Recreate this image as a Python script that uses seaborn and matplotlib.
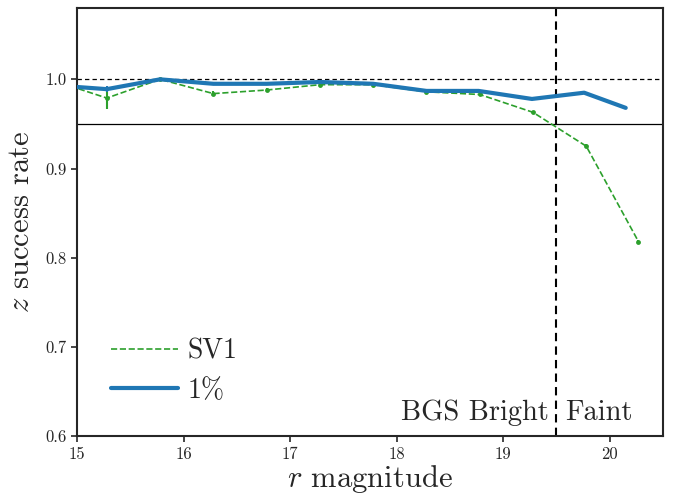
import numpy as np
import pandas as pd
import matplotlib
matplotlib.use("Agg")
import matplotlib.pyplot as plt
from matplotlib.lines import Line2D
import seaborn as sns

# ---- data ----
sv1_mag = [14.78, 15.28, 15.78, 16.28, 16.78, 17.28, 17.78, 18.28, 18.78, 19.28, 19.78, 20.27]
sv1_rate = [0.9986, 0.979, 1.000, 0.984, 0.988, 0.994, 0.994, 0.986, 0.983, 0.963, 0.925, 0.818]
sv1_err = [0.002, 0.0127, 0.001, 0.003, 0.002, 0.0015, 0.0015, 0.0015, 0.0015, 0.002, 0.002, 0.002]

one_mag = [14.78, 15.28, 15.78, 16.28, 16.78, 17.28, 17.78, 18.28, 18.77, 19.27, 19.76, 20.15]
one_rate = [0.9933, 0.989, 1.000, 0.995, 0.995, 0.997, 0.995, 0.987, 0.987, 0.978, 0.985, 0.968]
one_err = [0.001, 0.003, 0.001, 0.001, 0.001, 0.001, 0.001, 0.001, 0.001, 0.001, 0.001, 0.001]

xticks = [15, 16, 17, 18, 19, 20]
yticks = [0.6, 0.7, 0.8, 0.9, 1.0]
labels = ["SV1", "1%"]

sns.set_style("ticks")
plt.rcParams["font.family"] = ["serif"]
plt.rcParams["font.serif"] = ["cmr10", "DejaVu Serif"]
plt.rcParams["mathtext.fontset"] = "cm"
plt.rcParams["axes.formatter.use_mathtext"] = True

df_sv1 = pd.DataFrame({"mag": sv1_mag, "rate": sv1_rate})
df_one = pd.DataFrame({"mag": one_mag, "rate": one_rate})

fig = plt.figure(figsize=(6.83, 5.0), dpi=100)
ax = fig.add_axes([0.1127, 0.128, 0.858, 0.856])

green = "#2ca02c"
blue = "#1f77b4"

sns.lineplot(data=df_sv1, x="mag", y="rate", ax=ax, color=green, lw=1.2,
             linestyle="--", marker="o", markersize=3.5, markeredgewidth=0,
             legend=False, zorder=3)
ax.errorbar(sv1_mag, sv1_rate, yerr=sv1_err, fmt="none", ecolor=green, elinewidth=1.5, zorder=3)

sns.lineplot(data=df_one, x="mag", y="rate", ax=ax, color=blue, lw=3,
             legend=False, zorder=4)
ax.errorbar(one_mag, one_rate, yerr=one_err, fmt="none", ecolor=blue, elinewidth=1.5, zorder=4)

ax.axhline(1.0, color="k", ls="--", lw=0.9, dashes=(3.5, 2.5), zorder=1)
ax.axhline(0.95, color="k", ls="-", lw=0.9, zorder=1)
ax.axvline(19.5, color="k", ls="--", lw=1.5, dashes=(4, 2.5), zorder=1)

ax.text(19.43, 0.626, "BGS Bright", ha="right", va="center", fontsize=20.5)
ax.text(19.58, 0.626, "Faint", ha="left", va="center", fontsize=20.5)

ax.set_xlim(15, 20.5)
ax.set_ylim(0.6, 1.08)
ax.set_xticks(xticks)
ax.set_yticks(yticks)
ax.set_xticklabels([str(t) for t in xticks])
ax.set_yticklabels([f"{t:.1f}" for t in yticks])
ax.tick_params(labelsize=12, direction="out", length=4, width=1.2)
ax.set_xlabel("$r$ magnitude", fontsize=22, labelpad=1)
ax.set_ylabel("$z$ success rate", fontsize=22, labelpad=7)
for s in ax.spines.values():
    s.set_linewidth(1.5)
    s.set_visible(True)

handles = [Line2D([], [], color=green, ls="--", lw=1.2),
           Line2D([], [], color=blue, ls="-", lw=3)]
ax.legend(handles, labels, loc="lower left", bbox_to_anchor=(0.025, 0.03), frameon=False,
          fontsize=20, handlelength=2.4, handletextpad=0.35, borderaxespad=0.3,
          labelspacing=0.45)

fig.savefig("out.png", dpi=100)
